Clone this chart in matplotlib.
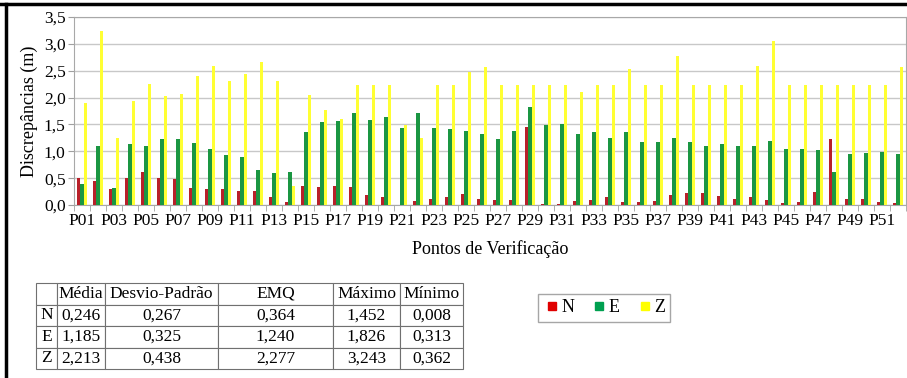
import matplotlib.pyplot as plt
import numpy as np
from matplotlib.lines import Line2D

plt.rcParams['font.family'] = ['Liberation Serif', 'DejaVu Serif']

pontos = ['P%02d' % i for i in range(1, 53)]

n_vals = [0.50, 0.44, 0.30, 0.50, 0.61, 0.50, 0.48, 0.32, 0.30, 0.30,
          0.26, 0.26, 0.14, 0.06, 0.36, 0.33, 0.35, 0.33, 0.19, 0.14,
          0.008, 0.07, 0.12, 0.14, 0.20, 0.12, 0.10, 0.09, 1.452, 0.01,
          0.01, 0.07, 0.10, 0.14, 0.06, 0.06, 0.07, 0.18, 0.22, 0.23,
          0.17, 0.11, 0.14, 0.09, 0.04, 0.05, 0.25, 1.22, 0.11, 0.11,
          0.05, 0.04]
e_vals = [0.39, 1.09, 0.313, 1.14, 1.10, 1.22, 1.23, 1.16, 1.05, 0.94,
          0.89, 0.65, 0.60, 0.61, 1.35, 1.55, 1.57, 1.71, 1.59, 1.63,
          1.44, 1.72, 1.44, 1.42, 1.38, 1.32, 1.22, 1.38, 1.826, 1.49,
          1.51, 1.32, 1.35, 1.25, 1.35, 1.17, 1.17, 1.24, 1.17, 1.09,
          1.13, 1.09, 1.10, 1.20, 1.05, 1.04, 1.02, 0.62, 0.95, 0.96,
          0.99, 0.95]
z_vals = [1.90, 3.243, 1.25, 1.94, 2.25, 2.03, 2.06, 2.41, 2.59, 2.30,
          2.43, 2.66, 2.31, 0.362, 2.05, 1.76, 1.61, 2.24, 2.24, 2.24,
          1.49, 1.25, 2.24, 2.24, 2.48, 2.56, 2.24, 2.24, 2.24, 2.24,
          2.24, 2.11, 2.24, 2.24, 2.53, 2.24, 2.24, 2.77, 2.24, 2.24,
          2.24, 2.24, 2.59, 3.06, 2.24, 2.24, 2.24, 2.24, 2.24, 2.24,
          2.24, 2.57]

col_labels = ['', 'Média', 'Desvio-Padrão', 'EMQ', 'Máximo', 'Mínimo']
row_n = ['N', '0,246', '0,267', '0,364', '1,452', '0,008']
row_e = ['E', '1,185', '0,325', '1,240', '1,826', '0,313']
row_z = ['Z', '2,213', '0,438', '2,277', '3,243', '0,362']

red = '#B8202A'
green = '#1A9642'
yellow = '#FFFF33'

W, H = 907, 378
fig = plt.figure(figsize=(W / 100, H / 100), dpi=100)

ax = fig.add_axes([74 / W, 1 - 205 / H, (906 - 74) / W, (205 - 17) / H])
x = np.arange(len(pontos))
bw = 0.21
ax.bar(x - bw, n_vals, bw, color=red, label='N', zorder=3)
ax.bar(x, e_vals, bw, color=green, label='E', zorder=3)
ax.bar(x + bw, z_vals, bw, color=yellow, label='Z', zorder=3)

ax.set_xlim(-0.5, len(pontos) - 0.5)
ax.set_ylim(0, 3.5)
ax.set_yticks(np.arange(0, 3.51, 0.5))
ax.set_yticklabels([('%.1f' % v).replace('.', ',') for v in np.arange(0, 3.51, 0.5)], fontsize=12.5)
ax.set_xticks(x[::2])
ax.set_xticklabels(pontos[::2], fontsize=12.5)
ax.set_xticks(np.arange(-0.5, len(pontos), 1), minor=True)
ax.tick_params(axis='x', which='major', length=0, pad=6)
ax.tick_params(axis='x', which='minor', length=4, color='#A0A0A0')
ax.tick_params(axis='y', length=4, color='#A0A0A0', pad=2)
ax.grid(axis='y', color='#C8C8C8', linewidth=1, zorder=0)
for s in ax.spines.values():
    s.set_color('#A8A8A8')
ax.set_ylabel('Discrepâncias (m)', fontsize=13, labelpad=4)
ax.set_xlabel('Pontos de Verificação', fontsize=13, labelpad=8)

# legenda
leg = fig.legend(handles=[Line2D([], [], marker='s', ls='', color=c, markersize=5.5)
                          for c in ('#E00000', '#00A050', '#FFFF00')],
                 labels=['N', 'E', 'Z'], ncol=3, loc='center',
                 bbox_to_anchor=(604 / W, 1 - 308 / H), fontsize=13,
                 frameon=True, fancybox=False, edgecolor='#909090',
                 handletextpad=0.0, columnspacing=0.9, borderpad=0.3,
                 handlelength=1.0)
leg.get_frame().set_linewidth(1)

# tabela
tax = fig.add_axes([36 / W, 1 - 369 / H, (463 - 36) / W, (369 - 283) / H])
tax.axis('off')
cols = [36, 57, 105, 218, 333, 400, 463]
widths = [(cols[i + 1] - cols[i]) / (463 - 36) for i in range(6)]
tab = tax.table(cellText=[col_labels, row_n, row_e, row_z], colWidths=widths,
                bbox=[0, 0, 1, 1], cellLoc='center')
tab.auto_set_font_size(False)
tab.set_fontsize(12.5)
for (r, c), cell in tab.get_celld().items():
    cell.set_edgecolor('#707070')
    cell.set_linewidth(0.8)
    cell.PAD = 0.02

# moldura preta
fig.add_artist(Line2D([0, 1], [1 - 3.5 / H, 1 - 3.5 / H], color='black', lw=2.5,
                      transform=fig.transFigure))
fig.add_artist(Line2D([6 / W, 6 / W], [0, 1 - 3.5 / H], color='black', lw=2.5,
                      transform=fig.transFigure))

fig.savefig('out.png', dpi=100)
